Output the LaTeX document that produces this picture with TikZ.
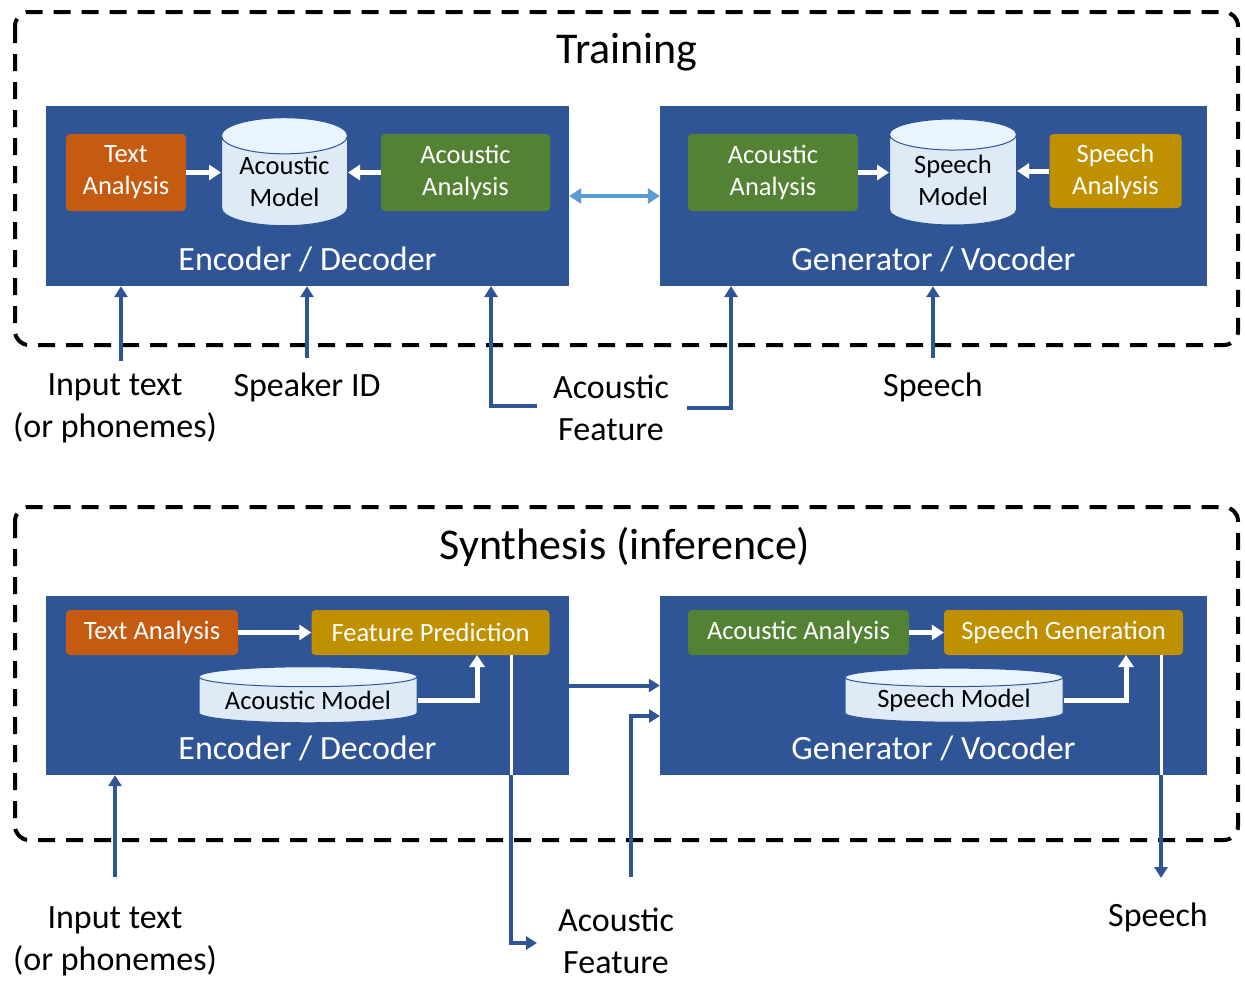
\documentclass[tikz,border=0pt]{standalone}
\usepackage{fontspec}
\setmainfont{Carlito}
\usetikzlibrary{arrows.meta,shapes.geometric}
\definecolor{encblue}{HTML}{2F5597}
\definecolor{txtorange}{HTML}{C55A11}
\definecolor{acgreen}{HTML}{548235}
\definecolor{spgold}{HTML}{BF9000}
\definecolor{cylbody}{HTML}{DEEBF7}
\definecolor{cyltop}{HTML}{EAF4FC}
\definecolor{linkblue}{HTML}{5B9BD5}
\tikzset{
  frame/.style={draw=black, line width=4pt, dash pattern=on 17pt off 11pt, rounded corners=14pt},
  blk/.style={fill=encblue, inner sep=0pt},
  blklabel/.style={text=white, font=\fontsize{34}{40}\selectfont},
  headline/.style={font=\fontsize{44}{50}\selectfont},
  sub/.style={text=white, rounded corners=4pt, inner sep=0pt, align=center, font=\fontsize{26.5}{32}\selectfont},
  db/.style={cylinder, shape border rotate=90, draw=encblue, line width=1pt,
    cylinder uses custom fill, cylinder body fill=cylbody, cylinder end fill=cyltop,
    inner sep=0pt, align=center, font=\fontsize{26.5}{32}\selectfont},
  inarrow/.style={draw=encblue, line width=4pt, -{Triangle[width=13pt,length=11pt]}},
  wharrow/.style={draw=white, line width=5pt, -{Triangle[width=15pt,length=12pt]}},
  linkarrow/.style={draw=linkblue, line width=4pt, {Triangle[width=15pt,length=12pt]}-{Triangle[width=15pt,length=12pt]}},
  outlabel/.style={font=\fontsize{34}{42}\selectfont, align=center, inner sep=0pt},
}
\begin{document}
\begin{tikzpicture}[x=1pt, y=-1pt]
\useasboundingbox (0,0) rectangle (1245,980);
% training
\draw[frame] (15,12) rectangle (1238,345);
\node[headline] (train) at (627,52) {Training};

\node[blk, minimum width=523pt, minimum height=180pt] (enc1) at (307.5,196) {};
\node[blklabel] (enc1lbl) at (307.5,259) {Encoder / Decoder};
\node[blk, minimum width=547pt, minimum height=180pt] (gen1) at (933.5,196) {};
\node[blklabel] (gen1lbl) at (933.5,259) {Generator / Vocoder};

\node[sub, fill=txtorange, minimum width=120pt, minimum height=77pt] (ta1) at (126,172.5) {Text\\Analysis};
\node[db, aspect=0.4, minimum width=126pt, minimum height=108pt] (am1) at (284.5,181) {Acoustic\\Model};
\node[sub, fill=acgreen, minimum width=169pt, minimum height=77pt] (aa1) at (465.5,172.5) {Acoustic\\Analysis};
\node[sub, fill=acgreen, minimum width=170pt, minimum height=77pt] (aa1g) at (773,172.5) {Acoustic\\Analysis};
\node[db, aspect=0.4, minimum width=127pt, minimum height=106pt] (sm1) at (953,180) {Speech\\Model};
\node[sub, fill=spgold, minimum width=132pt, minimum height=74pt] (sa1) at (1115.5,171) {Speech\\Analysis};

\draw[wharrow] (ta1.east) -- (ta1.east -| am1.west);
\draw[wharrow] (aa1.west) -- (aa1.west -| am1.east);
\draw[wharrow] (aa1g.east) -- (aa1g.east -| sm1.west);
\draw[wharrow] (sa1.west) -- (sa1.west -| sm1.east);
\draw[linkarrow] (enc1.east) -- (gen1.west);

\coordinate (in1) at (121,361);
\coordinate (spk1) at (307,358);
\coordinate (af1l) at (537,406);
\coordinate (af1ltop) at (491,286);
\coordinate (af1r) at (687,408);
\coordinate (af1rtop) at (731,286);
\coordinate (sp1) at (933,358);
\draw[inarrow] (in1) -- (in1 |- enc1.south);
\draw[inarrow] (spk1) -- (spk1 |- enc1.south);
\draw[inarrow] (af1l) -| (af1ltop);
\draw[inarrow] (af1r) -| (af1rtop);
\draw[inarrow] (sp1) -- (sp1 |- gen1.south);

\node[outlabel] (in1lbl) at (115,408) {Input text\\(or phonemes)};
\node[outlabel] (spk1lbl) at (307,387) {Speaker ID};
\node[outlabel] (af1lbl) at (611,408) {Acoustic\\Feature};
\node[outlabel] (sp1lbl) at (933,387) {Speech};

% synthesis
\draw[frame] (15,507) rectangle (1238,840);
\node[headline] (synth) at (625,547) {Synthesis (inference)};

\node[blk, minimum width=523pt, minimum height=179pt] (enc2) at (307.5,685.5) {};
\node[blklabel] (enc2lbl) at (307.5,748) {Encoder / Decoder};
\node[blk, minimum width=547pt, minimum height=179pt] (gen2) at (933.5,685.5) {};
\node[blklabel] (gen2lbl) at (933.5,748) {Generator / Vocoder};

\node[sub, fill=txtorange, minimum width=172pt, minimum height=45pt] (ta2) at (152,632.5) {Text Analysis};
\node[sub, fill=spgold, minimum width=238pt, minimum height=45pt] (fp2) at (430.5,632.5) {Feature Prediction};
\node[db, aspect=0.12, minimum width=218pt, minimum height=56pt] (am2) at (308,700) {Acoustic Model};
\node[sub, fill=acgreen, minimum width=221pt, minimum height=45pt] (aa2) at (798.5,632.5) {Acoustic Analysis};
\node[sub, fill=spgold, minimum width=239pt, minimum height=45pt] (sg2) at (1063.5,632.5) {Speech Generation};
\node[db, aspect=0.12, minimum width=218pt, minimum height=54pt] (sm2) at (954,700) {Speech Model};

\coordinate (fp2in) at (477,655);
\coordinate (sg2in) at (1126,655);
\draw[wharrow] (ta2) -- (fp2);
\draw[wharrow] (am2.east) -| (fp2in);
\draw[wharrow] (aa2) -- (sg2);
\draw[wharrow] (sm2.east) -| (sg2in);

\coordinate (fp2out) at (511,655);
\coordinate (af2out) at (537,943);
\coordinate (af2in) at (631,877);
\coordinate (gen2in) at (660,716);
\coordinate (sg2out) at (1161,655);
\coordinate (sp2) at (1161,878);
\coordinate (in2) at (115,877);
\draw[white, line width=3pt] (fp2out) -- (fp2out |- enc2.south);
\draw[inarrow] (fp2out |- enc2.south) |- (af2out);
\draw[inarrow] (enc2.east) -- (gen2.west);
\draw[inarrow] (af2in) |- (gen2in);
\draw[white, line width=3pt] (sg2out) -- (sg2out |- gen2.south);
\draw[inarrow] (sg2out |- gen2.south) -- (sp2);
\draw[inarrow] (in2) -- (in2 |- enc2.south);

\node[outlabel] (in2lbl) at (115,941) {Input text\\(or phonemes)};
\node[outlabel] (af2lbl) at (616,941) {Acoustic\\Feature};
\node[outlabel] (sp2lbl) at (1158,917) {Speech};
\end{tikzpicture}
\end{document}
